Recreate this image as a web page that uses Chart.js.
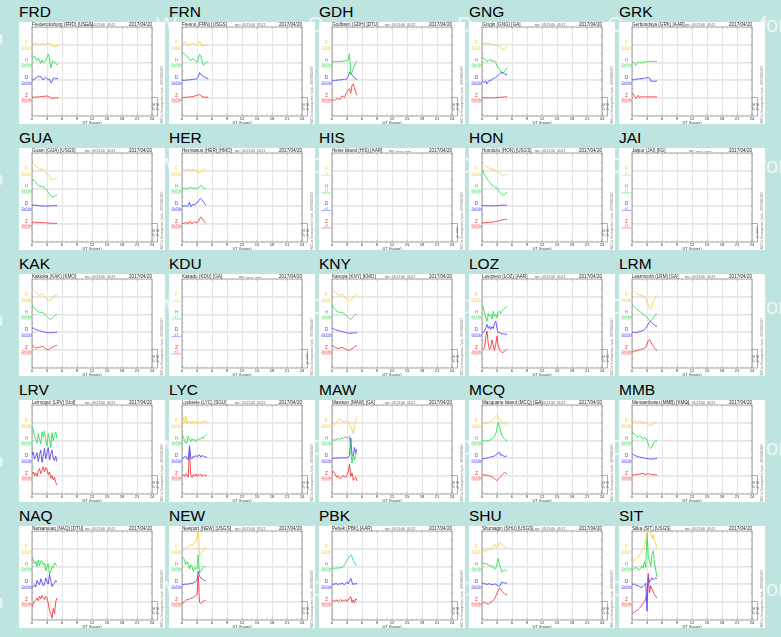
<!DOCTYPE html>
<html><head><meta charset="utf-8">
<script src="https://cdn.jsdelivr.net/npm/chart.js@4.4.1/dist/chart.umd.min.js"></script>
<style>
html,body{margin:0;padding:0;width:781px;height:637px;overflow:hidden;background:#bee4e0;font-family:"Liberation Sans",Arial,sans-serif;position:relative}
.wm{position:absolute;color:rgba(255,255,255,0.7);font-size:22px;line-height:22px;white-space:nowrap;z-index:0}
.title{position:absolute;font-size:15.5px;line-height:15.5px;color:#000;z-index:2;white-space:nowrap}
.box{position:absolute;background:#fff;width:146px;height:102px;z-index:1}
.box canvas{display:block}
</style></head><body>
<script>
// ---- data ----
const hours = [0,0.25,0.5,0.75,1,1.25,1.5,1.75,2,2.25,2.5,2.75,3,3.25,3.5,3.75,4,4.25,4.5,4.75,5,5.25];
const hourTicks = [0,3,6,9,12,15,18,21,24];
const components = ['F','H','D','Z'];
const componentLevels = [4,3,2,1];
const stations = ['FRD','FRN','GDH','GNG','GRK','GUA','HER','HIS','HON','JAI','KAK','KDU','KNY','LOZ','LRM','LRV','LYC','MAW','MCQ','MMB','NAQ','NEW','PBK','SHU','SIT'];
const nextRow = ['SJG','TDC','THL','TIK','TUC'];
const fullNames = ['Fredericksburg (FRD) [USGS]','Fresno (FRN) [USGS]','Godhavn (GDH) [DTU]','Gingin (GNG) [GA]','Gerbondsya (GRK) [AAR]',
 'Guam (GUA) [USGS]','Hermanus (HER) [HMO]','Heiss Island (HIS) [AAR]','Honolulu (HON) [USGS]','Jaipur (JAI) [IIG]',
 'Kakioka (KAK) [KMO]','Kakadu (KDU) [GA]','Kanoya (KNY) [KMO]','Lovozero (LOZ) [AAR]','Learmonth (LRM) [GA]',
 'Leirvogur (LRV) [UoI]','Lycksele (LYC) [SGU]','Mawson (MAW) [GA]','Macquarie Island (MCQ) [GA]','Memambetsu (MMB) [KMO]',
 'Narsarsuaq (NAQ) [DTU]','Newport (NEW) [USGS]','Pebek (PBK) [AAR]','Shumagin (SHU) [USGS]','Sitka (SIT) [USGS]'];
const plotDate = '2017/04/20';

const FRD_F=[4.05,4.07,4.08,4.09,4.07,4.02,3.99,4.05,4.11,4.06,3.99,4.03,4.09,4.1,4.1,4.0,3.95,3.92,3.9,3.91,3.93,3.93];
const FRD_H=[3.2,3.3,3.38,3.2,3.1,3.25,3.1,2.95,3.15,3.0,3.05,3.1,3.3,3.48,3.2,2.7,2.95,3.1,3.0,2.95,2.88,2.92];
const FRD_D=[1.98,2.02,2.06,2.1,2.15,2.24,2.18,2.2,2.08,2.0,2.12,2.16,2.08,2.02,2.05,1.84,1.9,2.1,2.12,2.06,2.08,2.1];
const FRD_Z=[1.01,1.02,1.02,1.03,1.03,1.04,1.04,1.05,1.05,1.06,1.07,1.08,1.08,1.07,1.04,0.97,0.95,0.96,0.97,0.98,0.98,0.99];
const FRN_F=[4.08,4.1,4.14,4.16,4.1,4.0,3.98,4.02,4.08,4.12,4.06,4.0,4.02,4.1,4.2,4.05,3.94,3.96,3.98,3.98,3.99,4.0];
const FRN_H=[3.58,3.55,3.48,3.42,3.35,3.28,3.15,3.1,3.2,3.18,3.15,3.1,3.0,3.2,3.46,3.4,3.1,2.85,2.9,2.98,3.02,3.05];
const FRN_D=[1.98,1.98,1.98,1.99,2.0,2.0,2.01,2.02,2.03,2.04,2.05,2.06,2.08,2.18,2.42,2.35,2.25,2.2,2.16,2.12,2.1,2.08];
const FRN_Z=[1.0,1.0,1.01,1.01,1.02,1.02,1.03,1.04,1.05,1.06,1.08,1.1,1.12,1.15,1.16,1.12,1.06,1.03,1.02,1.02,1.02,1.02];
const GDH_F=[];
const GDH_H=[3.05,3.06,3.05,3.07,3.06,3.05,3.08,3.06,3.07,3.08,3.1,3.1,3.12,3.15,3.5,2.3,2.45,2.65,2.85,3.0,3.1,null];
const GDH_D=[1.95,1.96,1.98,1.97,1.99,2.0,2.01,2.0,2.02,2.03,2.02,2.05,2.08,2.2,2.45,2.35,2.3,2.2,2.12,2.08,2.02,null];
const GDH_Z=[0.88,0.85,0.82,0.88,0.95,0.92,0.88,0.98,1.1,1.05,1.0,1.2,1.3,1.45,1.5,1.25,1.7,1.78,1.55,1.3,1.12,null];
const GNG_F=[4.1,4.1,4.1,4.1,4.1,4.09,4.08,4.08,4.06,4.03,4.0,3.98,3.95,3.93,3.9,3.85,3.78,3.75,3.8,3.85,3.88,null];
const GNG_H=[3.3,3.25,3.2,3.15,3.05,3.12,3.1,3.18,3.05,3.12,3.1,3.0,2.8,2.72,2.6,2.45,2.35,2.4,2.5,2.6,2.7,null];
const GNG_D=[1.95,1.9,1.85,1.95,1.78,1.9,2.0,1.95,2.05,2.1,2.12,2.15,2.2,2.28,2.35,2.42,2.47,2.4,2.35,2.3,2.33,null];
const GNG_Z=[1.0,0.99,0.98,1.0,0.97,0.98,0.99,0.98,0.97,0.99,1.0,0.99,1.0,1.01,1.0,1.02,1.02,1.03,1.03,1.04,1.04,null];
const GRK_F=[];
const GRK_H=[3.05,3.0,2.95,2.85,2.95,3.05,2.98,3.02,2.95,3.05,3.0,3.08,3.02,3.05,3.07,3.06,3.06,3.07,3.07,3.07,3.07,null];
const GRK_D=[2.02,2.0,2.05,2.03,2.06,2.05,2.08,2.06,2.1,2.08,2.12,2.1,2.13,2.15,2.12,1.95,1.92,1.93,1.93,1.94,1.94,null];
const GRK_Z=[1.25,1.2,1.08,0.95,1.05,1.12,0.98,1.06,1.08,1.0,1.06,1.04,1.02,1.05,1.03,1.03,1.04,1.04,1.03,1.04,1.04,null];
const GUA_F=[4.43,4.42,4.35,4.3,4.22,4.15,4.1,4.12,4.1,4.05,4.0,3.95,3.85,3.78,3.68,3.55,3.52,3.52,3.55,3.58,3.6,null];
const GUA_H=[3.48,3.47,3.42,3.35,3.28,3.2,3.15,3.12,3.13,3.08,3.05,2.98,2.9,2.78,2.68,2.58,2.52,2.52,2.55,2.6,2.62,null];
const GUA_D=[2.06,2.05,2.05,2.04,2.03,2.02,2.02,2.01,2.0,2.0,2.0,1.99,1.99,2.0,2.0,2.01,2.01,2.02,2.02,2.02,2.03,null];
const GUA_Z=[1.08,1.08,1.07,1.07,1.06,1.06,1.06,1.05,1.05,1.05,1.04,1.04,1.03,1.03,1.02,1.02,1.01,1.01,1.0,1.0,1.0,null];
const HER_F=[4.1,4.12,4.08,4.05,4.1,4.12,4.06,4.02,4.08,4.1,4.04,4.0,4.02,3.96,3.86,3.92,4.0,4.08,4.12,4.1,null,null];
const HER_H=[2.98,3.0,3.02,3.0,2.98,3.0,3.05,3.06,3.02,3.0,3.04,3.02,3.0,3.05,3.1,3.18,3.12,3.05,3.02,3.0,null,null];
const HER_D=[1.98,2.0,2.02,2.0,1.98,2.05,2.22,1.95,2.05,2.1,2.05,2.15,2.2,2.25,2.38,2.42,2.35,2.25,2.15,2.05,null,null];
const HER_Z=[1.02,1.0,1.03,1.05,1.02,1.0,1.12,1.04,1.0,1.06,1.1,1.05,1.04,1.1,1.28,1.38,1.3,1.2,1.1,1.02,null,null];
const HIS_F=[], HIS_H=[], HIS_D=[], HIS_Z=[];
const HON_F=[4.43,4.4,4.35,4.3,4.25,4.2,4.15,4.12,4.1,4.08,4.05,4.02,3.98,3.92,3.88,3.84,3.78,3.72,3.74,3.8,3.84,null];
const HON_H=[4.05,3.95,3.8,3.67,3.55,3.45,3.38,3.3,3.2,3.12,3.1,3.06,3.02,2.9,2.8,2.72,2.66,2.62,2.65,2.72,2.8,null];
const HON_D=[2.03,2.03,2.02,2.02,2.02,2.02,2.01,2.01,2.01,2.01,2.02,2.02,2.02,2.03,2.03,2.04,2.05,2.05,2.04,2.04,2.04,null];
const HON_Z=[1.04,1.04,1.05,1.05,1.05,1.06,1.07,1.07,1.08,1.1,1.1,1.12,1.13,1.14,1.16,1.18,1.2,1.22,1.23,1.24,1.24,null];
const JAI_F=[], JAI_H=[], JAI_D=[], JAI_Z=[];
const KAK_F=[4.43,4.38,4.3,4.24,4.18,4.12,4.1,4.14,4.18,4.14,4.05,3.98,3.92,3.85,3.78,3.82,3.92,4.02,4.08,4.1,4.12,null];
const KAK_H=[3.48,3.42,3.35,3.28,3.22,3.15,3.12,3.12,3.14,3.1,3.02,2.98,2.9,2.82,2.75,2.72,2.78,2.85,2.92,2.98,3.0,null];
const KAK_D=[2.24,2.22,2.18,2.15,2.12,2.1,2.08,2.05,2.04,2.02,2.0,1.98,1.97,1.96,1.95,1.95,1.96,1.97,1.97,1.98,1.98,null];
const KAK_Z=[1.24,1.2,1.12,1.08,1.1,1.14,1.12,1.15,1.18,1.16,1.1,1.05,1.0,0.98,1.02,1.08,1.12,1.16,1.2,1.22,1.24,null];
const KDU_F=[], KDU_H=[], KDU_D=[], KDU_Z=[];
const KNY_F=[4.43,4.38,4.3,4.24,4.18,4.12,4.1,4.12,4.15,4.1,4.02,3.95,3.9,3.82,3.74,3.8,3.9,4.0,4.08,4.12,4.14,null];
const KNY_H=[3.48,3.42,3.32,3.25,3.2,3.15,3.12,3.14,3.12,3.08,3.02,2.98,2.92,2.84,2.76,2.72,2.8,2.88,2.95,3.0,3.04,null];
const KNY_D=[2.24,2.2,2.16,2.12,2.1,2.08,2.06,2.04,2.02,2.0,1.98,1.97,1.95,1.94,1.93,1.93,1.94,1.95,1.95,1.96,1.96,null];
const KNY_Z=[1.24,1.2,1.14,1.1,1.08,1.06,1.08,1.1,1.12,1.1,1.06,1.02,0.98,0.95,0.96,1.0,1.05,1.1,1.15,1.2,1.22,null];
const LOZ_F=[];
const LOZ_H=[3.48,3.42,3.1,2.8,2.62,3.05,2.9,3.0,2.75,3.18,2.88,3.0,2.82,3.12,3.2,3.05,3.22,3.28,3.35,3.4,3.48,null];
const LOZ_D=[1.95,1.98,2.05,2.25,2.43,2.2,2.35,2.15,2.3,2.2,2.5,2.62,2.2,1.95,2.0,1.92,1.9,1.9,1.88,1.87,1.85,null];
const LOZ_Z=[1.05,1.0,1.1,1.7,2.05,1.35,1.0,1.1,1.55,1.25,0.95,1.3,1.78,1.2,1.0,0.9,0.82,0.85,0.9,0.95,1.0,null];
const LRM_F=[4.43,4.38,4.3,4.22,4.18,4.15,4.12,4.1,4.08,4.05,3.98,3.88,3.75,3.55,3.35,3.3,3.5,3.7,3.88,4.0,4.1,null];
const LRM_H=[3.57,3.5,3.42,3.35,3.28,3.24,3.2,3.12,3.08,3.02,2.98,2.92,2.85,2.75,2.65,2.62,2.7,2.8,2.9,2.98,3.04,null];
const LRM_D=[1.99,1.98,1.96,1.98,1.96,2.0,2.05,2.02,2.08,2.1,2.15,2.22,2.32,2.45,2.58,2.6,2.52,2.45,2.4,2.36,2.32,null];
const LRM_Z=[0.85,0.87,0.9,0.92,0.94,0.96,0.98,1.0,1.02,1.05,1.08,1.12,1.3,1.5,1.57,1.45,1.3,1.18,1.08,1.0,0.95,null];
const LRV_F=[];
const LRV_H=[3.78,3.6,3.3,3.05,2.85,3.4,3.1,2.8,3.5,3.2,3.55,3.0,2.7,3.4,3.1,2.6,3.45,3.0,3.3,3.5,3.1,null];
const LRV_D=[2.15,2.35,1.95,2.1,2.3,1.8,2.2,2.45,1.75,2.1,2.55,1.95,2.3,2.6,1.9,2.2,2.45,2.0,1.85,2.1,1.8,null];
const LRV_Z=[1.1,1.2,1.0,1.15,0.95,1.25,1.4,1.1,1.3,1.5,1.2,1.45,1.35,1.05,1.2,0.85,1.0,0.75,0.9,0.6,0.45,null];
const LYC_F=[4.1,4.3,4.0,4.42,3.95,4.12,4.05,4.08,3.98,4.1,4.04,4.1,3.96,4.06,4.02,3.98,4.08,4.04,4.1,4.06,4.08,null];
const LYC_H=[3.38,3.2,3.0,2.85,2.9,3.25,3.05,2.95,3.1,3.0,3.08,2.95,3.0,3.12,3.05,3.1,3.2,3.12,3.25,3.3,3.35,null];
const LYC_D=[2.0,1.98,2.05,2.1,1.95,1.9,2.7,2.0,1.95,2.1,2.05,2.15,2.08,2.12,2.2,2.05,2.15,2.1,2.08,2.05,2.02,null];
const LYC_Z=[1.0,1.05,0.95,1.1,1.02,0.9,2.45,1.0,0.88,1.05,0.98,1.1,0.95,1.06,1.02,1.08,0.94,1.0,1.04,0.98,1.02,null];
const MAW_F=[3.86,3.85,3.9,3.98,4.05,4.15,4.24,4.15,4.08,4.12,4.05,4.1,4.12,4.08,3.9,3.76,3.6,3.4,3.85,4.1,4.3,null];
const MAW_H=[3.0,3.02,3.05,3.02,3.08,3.12,3.05,3.1,3.15,3.12,3.18,3.2,3.15,3.18,3.25,2.4,1.7,2.2,1.9,2.3,2.2,null];
const MAW_D=[1.98,1.98,1.99,2.0,1.99,2.0,2.01,2.0,2.02,2.0,2.01,2.02,2.0,2.05,2.15,3.15,2.2,2.1,2.6,2.3,2.5,null];
const MAW_Z=[1.1,1.25,1.15,1.0,0.9,0.98,0.85,0.82,0.95,1.0,0.92,0.9,1.05,1.2,1.65,0.95,1.15,0.72,0.8,0.9,0.68,null];
const MCQ_F=[3.95,3.96,3.98,4.0,4.02,4.04,4.06,4.1,4.15,4.2,4.3,4.38,4.43,4.3,4.18,4.08,4.02,4.0,3.96,3.94,3.95,null];
const MCQ_H=[3.0,3.0,2.98,2.96,2.98,3.0,3.02,3.05,3.1,3.15,3.25,3.38,3.7,4.05,3.8,3.5,3.3,3.15,3.08,3.02,3.0,null];
const MCQ_D=[1.95,1.95,1.96,1.98,2.0,2.02,2.04,2.05,2.07,2.1,2.12,2.18,2.24,2.3,2.33,2.15,2.2,2.12,2.08,2.1,2.12,null];
const MCQ_Z=[1.04,1.04,1.03,1.03,1.02,1.0,0.98,0.95,0.92,0.88,0.82,0.75,0.72,0.78,0.85,0.95,1.05,1.12,1.18,1.14,1.1,null];
const MMB_F=[4.12,4.14,4.12,4.08,4.02,4.05,4.12,4.1,4.0,3.98,4.05,4.02,3.95,3.9,3.86,3.88,3.92,3.96,4.0,4.04,4.05,null];
const MMB_H=[3.48,3.42,3.36,3.3,3.2,3.22,3.28,3.25,3.12,3.1,3.18,3.15,3.0,2.8,2.62,2.55,2.65,2.8,2.9,2.98,3.02,null];
const MMB_D=[2.24,2.2,2.16,2.12,2.1,2.08,2.06,2.04,2.02,2.01,2.0,1.98,1.97,1.96,1.95,1.94,1.94,1.95,1.96,1.97,1.98,null];
const MMB_Z=[1.02,1.03,1.04,1.05,1.06,1.07,1.08,1.1,1.12,1.1,1.08,1.06,1.08,1.1,1.09,1.07,1.05,1.04,1.04,1.04,1.04,null];
const NAQ_F=[];
const NAQ_H=[3.55,3.4,3.15,3.3,3.0,3.38,3.05,3.28,3.32,3.1,3.2,2.75,3.0,3.15,2.55,2.7,3.0,2.95,3.22,3.1,3.05,null];
const NAQ_D=[1.78,1.85,1.95,1.82,2.2,2.05,1.95,2.3,2.1,1.9,2.0,2.35,2.15,2.0,2.55,2.2,1.85,2.0,2.05,2.2,2.12,null];
const NAQ_Z=[0.7,0.85,1.0,1.1,1.2,1.05,1.3,1.15,1.35,1.22,1.1,1.3,1.2,0.9,0.5,0.3,0.05,0.6,0.3,1.0,1.2,null];
const NEW_F=[3.85,3.9,3.98,4.05,4.1,4.12,4.18,4.24,4.22,4.3,4.35,4.5,4.6,5.3,3.6,3.7,3.82,3.95,4.05,4.08,null,null];
const NEW_H=[3.57,3.5,3.38,3.1,3.28,3.15,2.85,3.1,3.0,2.72,2.95,2.85,2.9,3.65,2.62,2.7,2.85,2.95,3.0,3.02,null,null];
const NEW_D=[1.98,1.96,1.98,2.0,1.97,2.02,2.0,2.05,2.02,2.08,2.1,2.14,2.2,2.72,2.45,2.35,2.3,2.25,2.2,2.18,null,null];
const NEW_Z=[0.9,0.92,0.98,1.05,1.12,1.1,1.15,1.18,1.2,1.25,1.3,1.35,1.4,2.45,0.95,0.88,0.95,1.0,1.05,1.08,null,null];
const PBK_F=[];
const PBK_H=[2.9,2.9,2.88,2.9,2.92,2.9,2.94,2.92,2.96,3.0,3.1,3.25,3.35,3.45,3.6,3.67,3.55,3.35,3.2,3.1,3.08,null];
const PBK_D=[1.98,2.0,1.96,2.05,2.0,1.95,2.04,1.98,2.06,2.0,1.96,2.05,2.12,2.0,2.15,2.33,2.1,1.95,2.05,2.0,2.02,null];
const PBK_Z=[1.05,1.0,1.08,1.02,1.1,0.98,1.05,1.12,1.0,1.08,1.04,1.12,1.0,1.08,1.2,1.28,0.95,1.1,0.92,1.15,1.1,null];
const SHU_F=[3.86,3.88,3.9,3.88,3.92,3.95,3.98,4.0,4.05,4.18,4.3,4.12,4.05,4.2,4.4,4.35,4.25,4.18,4.12,4.1,4.08,null];
const SHU_H=[3.3,3.22,3.12,3.2,3.15,3.05,3.1,3.0,3.05,2.95,2.85,2.9,3.15,3.45,3.1,2.9,2.68,2.75,2.82,2.72,2.78,null];
const SHU_D=[2.05,2.04,2.02,2.0,1.98,2.0,2.02,1.98,1.97,1.96,2.0,1.98,1.95,1.88,1.86,2.0,2.12,2.08,2.05,2.06,2.05,null];
const SHU_Z=[0.9,0.92,0.95,0.9,0.88,0.85,0.9,0.95,0.98,1.05,1.15,1.3,1.48,1.62,1.75,1.7,1.58,1.52,1.45,1.4,1.38,null];
const SIT_F=[3.3,3.3,3.35,3.42,3.5,3.55,3.65,3.75,3.9,4.0,4.2,4.5,4.9,5.3,5.2,4.9,4.6,4.8,4.5,4.3,4.1,null];
const SIT_H=[2.8,2.85,2.9,2.95,2.9,2.85,2.8,2.95,3.05,2.9,3.3,2.95,4.9,3.6,3.3,3.0,3.7,3.9,3.2,2.8,2.4,null];
const SIT_D=[2.0,1.98,2.0,1.95,1.92,1.9,1.85,1.8,1.82,1.88,1.95,2.05,0.45,2.4,2.1,2.2,2.35,2.25,2.3,2.35,2.3,null];
const SIT_Z=[0.3,0.35,0.4,0.45,0.5,0.55,0.62,0.7,0.8,0.9,1.0,1.2,1.5,2.6,1.5,1.9,1.7,1.55,1.4,1.3,1.2,null];

const seriesTable = {
 FRD:[FRD_F,FRD_H,FRD_D,FRD_Z], FRN:[FRN_F,FRN_H,FRN_D,FRN_Z], GDH:[GDH_F,GDH_H,GDH_D,GDH_Z], GNG:[GNG_F,GNG_H,GNG_D,GNG_Z], GRK:[GRK_F,GRK_H,GRK_D,GRK_Z],
 GUA:[GUA_F,GUA_H,GUA_D,GUA_Z], HER:[HER_F,HER_H,HER_D,HER_Z], HIS:[HIS_F,HIS_H,HIS_D,HIS_Z], HON:[HON_F,HON_H,HON_D,HON_Z], JAI:[JAI_F,JAI_H,JAI_D,JAI_Z],
 KAK:[KAK_F,KAK_H,KAK_D,KAK_Z], KDU:[KDU_F,KDU_H,KDU_D,KDU_Z], KNY:[KNY_F,KNY_H,KNY_D,KNY_Z], LOZ:[LOZ_F,LOZ_H,LOZ_D,LOZ_Z], LRM:[LRM_F,LRM_H,LRM_D,LRM_Z],
 LRV:[LRV_F,LRV_H,LRV_D,LRV_Z], LYC:[LYC_F,LYC_H,LYC_D,LYC_Z], MAW:[MAW_F,MAW_H,MAW_D,MAW_Z], MCQ:[MCQ_F,MCQ_H,MCQ_D,MCQ_Z], MMB:[MMB_F,MMB_H,MMB_D,MMB_Z],
 NAQ:[NAQ_F,NAQ_H,NAQ_D,NAQ_Z], NEW:[NEW_F,NEW_H,NEW_D,NEW_Z], PBK:[PBK_F,PBK_H,PBK_D,PBK_Z], SHU:[SHU_F,SHU_H,SHU_D,SHU_Z], SIT:[SIT_F,SIT_H,SIT_D,SIT_Z]
};
const emptyStations = ['HIS','JAI','KDU'];

// ---- styling ----
const compColors = ['#f7cf45','#2fe052','#5646f5','#f53a3a'];
const FONT = '"Liberation Sans", Arial, sans-serif';

// watermark fragments (background text)
const wmLines = [25,166,307,448,589];
wmLines.forEach((yc,i)=>{
  [['o',-9,13],['W',156,0],['O',307,0],['D',457,0],['C',607,0],['for',760,0]].forEach(([t,x,dy])=>{
    const s=document.createElement('div'); s.className='wm'; s.textContent=t;
    s.style.left=x+'px'; s.style.top=(yc+dy-11)+'px'; document.body.appendChild(s);
  });
});

const deco = {
  id:'deco',
  beforeDatasetsDraw(chart,args,o){
    const {ctx, chartArea:a, scales:{x,y}} = chart;
    ctx.save();
    ctx.strokeStyle='#a8a8a8'; ctx.lineWidth=0.6; ctx.beginPath();
    for(let h=0;h<=24;h++){const px=x.getPixelForValue(h); const L=(h%3===0)?2.2:1.3;
      ctx.moveTo(px,a.bottom); ctx.lineTo(px,a.bottom-L); ctx.moveTo(px,a.top); ctx.lineTo(px,a.top+L);}
    for(let v=0;v<=5;v+=0.5){const py=y.getPixelForValue(v);
      ctx.moveTo(a.left,py); ctx.lineTo(a.left+1.5,py); ctx.moveTo(a.right,py); ctx.lineTo(a.right-1.5,py);}
    ctx.stroke();
    ctx.strokeStyle='#8a8a8a'; ctx.lineWidth=0.8;
    ctx.strokeRect(a.left,a.top,a.right-a.left,a.bottom-a.top);
    ctx.restore();
  },
  afterDraw(chart,args,o){
    const {ctx, chartArea:a, scales:{x,y}, width:W} = chart;
    ctx.save();
    // header
    ctx.textBaseline='alphabetic';
    ctx.font='4.6px '+FONT; ctx.fillStyle='#222'; ctx.textAlign='left';
    ctx.fillText(o.full, a.left, a.top-0.6);
    ctx.textAlign='right'; ctx.fillText(plotDate, a.right, a.top-0.6);
    ctx.font='3.4px '+FONT; ctx.fillStyle='#555'; ctx.textAlign='center';
    ctx.fillText(o.empty?'sec: ------  ------':'sec: 05:21:00  05:21', (a.left+a.right)/2+8, a.top-0.8);
    // x tick labels
    ctx.font='4.2px '+FONT; ctx.fillStyle='#333'; ctx.textAlign='center';
    hourTicks.forEach(h=>ctx.fillText(String(h), x.getPixelForValue(h), a.bottom+4.3));
    ctx.font='4px '+FONT;
    ctx.fillText('UT (hours)', (a.left+a.right)/2, a.bottom+7.6);
    // component labels
    components.forEach((c,i)=>{
      const py=y.getPixelForValue(componentLevels[i]);
      ctx.fillStyle=compColors[i]; ctx.textAlign='center';
      ctx.font='4.8px '+FONT; ctx.fillText(c, a.left-5.5, py-0.8);
      ctx.font='2.8px '+FONT; ctx.fillText(o.empty?'nT':'20nT/div', a.left-5.5, py+3.6);
      ctx.strokeStyle=compColors[i]; ctx.lineWidth=0.5; ctx.beginPath();
      ctx.moveTo(a.left-10.5,py+4.4); ctx.lineTo(a.left-0.8,py+4.4); ctx.stroke();
    });
    // scale bar at bottom right
    const p1=y.getPixelForValue(1);
    ctx.strokeStyle='#777'; ctx.lineWidth=0.6; ctx.beginPath();
    ctx.moveTo(a.right,p1); ctx.lineTo(a.right+5.5,p1); ctx.lineTo(a.right+5.5,a.bottom); ctx.lineTo(a.right,a.bottom); ctx.stroke();
    ctx.fillStyle='#555'; ctx.font='3px '+FONT;
    ctx.translate(a.right+3.6,(p1+a.bottom)/2); ctx.rotate(Math.PI/2);
    ctx.textAlign='center'; ctx.fillText(o.empty?'none nT':'20 nT', 0, 0);
    ctx.fillText(o.empty?'':'20 nT', 0, 3.2);
    ctx.setTransform(1,0,0,1,0,0);
    // far right vertical credit text
    ctx.translate(W-2.2,(p1+a.bottom)/2-12); ctx.rotate(-Math.PI/2);
    ctx.fillStyle='#8a8a8a'; ctx.font='2.6px '+FONT; ctx.textAlign='center';
    ctx.fillText('WDC for Geomagnetism, Kyoto - INTERMAGNET', 0, 0);
    ctx.restore();
  }
};

stations.forEach((st,idx)=>{
  const c=idx%5, r=Math.floor(idx/5);
  const t=document.createElement('div'); t.className='title'; t.textContent=st;
  t.style.left=(19+150*c)+'px'; t.style.top=(3.6+126*r)+'px'; document.body.appendChild(t);
  const box=document.createElement('div'); box.className='box';
  box.style.left=(19+150*c)+'px'; box.style.top=(22+126*r)+'px'; document.body.appendChild(box);
  const cv=document.createElement('canvas'); cv.width=146; cv.height=102;
  cv.style.width='146px'; cv.style.height='102px'; box.appendChild(cv);
  const arrs=seriesTable[st];
  new Chart(cv,{
    type:'line',
    data:{datasets: arrs.map((arr,i)=>({
      data: hours.map((h,k)=>({x:h, y:(arr[k]===undefined?null:arr[k])})),
      borderColor: compColors[i], borderWidth:0.9, pointRadius:0, tension:0, spanGaps:false, fill:false
    }))},
    options:{
      responsive:false, animation:false, events:[], devicePixelRatio:1,
      layout:{padding:{left:13,right:13,top:5,bottom:8}},
      plugins:{legend:{display:false}, tooltip:{enabled:false},
        deco:{full:fullNames[idx], empty: emptyStations.includes(st)}},
      scales:{
        x:{type:'linear', min:0, max:24, ticks:{display:false, stepSize:3},
           grid:{drawTicks:false, color:'#dedede', lineWidth:0.8}, border:{display:false}},
        y:{type:'linear', min:-0.057, max:5.03,
           afterBuildTicks:(ax)=>{ax.ticks=componentLevels.slice().reverse().map(v=>({value:v}));},
           ticks:{display:false}, grid:{drawTicks:false, color:'#e6e6e6', lineWidth:1.8}, border:{display:false}}
      }
    },
    plugins:[deco]
  });
});
nextRow.forEach((st,c)=>{
  const t=document.createElement('div'); t.className='title'; t.textContent=st;
  t.style.left=(19+150*c)+'px'; t.style.top=(3.6+126*5)+'px'; document.body.appendChild(t);
});
</script>
</body></html>
